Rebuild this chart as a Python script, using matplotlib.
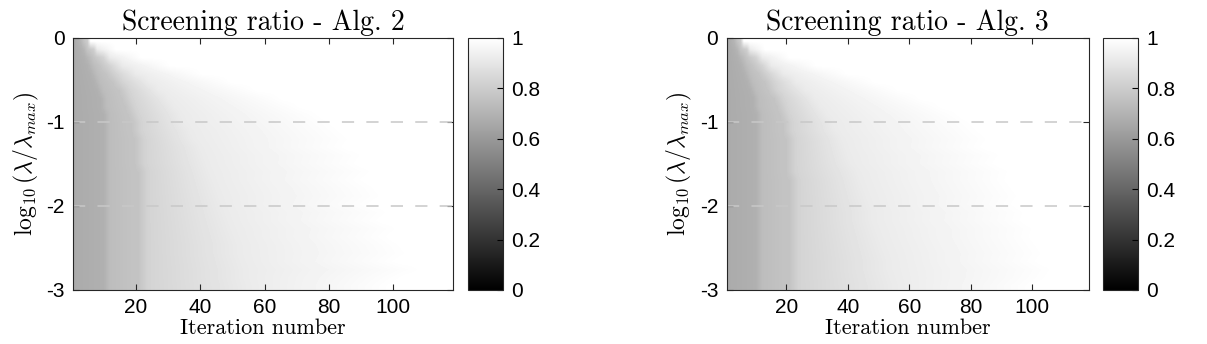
import matplotlib

matplotlib.use("Agg")
import matplotlib.pyplot as plt
import numpy as np

plt.rcParams["axes.unicode_minus"] = False
plt.rcParams["mathtext.fontset"] = "cm"
plt.rcParams["font.family"] = ["Liberation Sans", "DejaVu Sans"]

# log10(lambda / lambda_max) for each row of the image, top to bottom
log_lam = [0.0, -0.1, -0.2, -0.3, -0.4, -0.5, -0.6, -0.7, -0.8, -0.9, -1.0,
           -1.1, -1.2, -1.3, -1.4, -1.5, -1.6, -1.7, -1.8, -1.9, -2.0,
           -2.1, -2.2, -2.3, -2.4, -2.5, -2.6, -2.7, -2.8, -2.9, -3.0]
n_iter = 118

# screening ratio on either side of each step (iteration 1 first)
ratio_levels = [0.67, 0.69, 0.74, 0.77, 0.83, 0.92, 1.0]

# Alg. 2 -- iteration of each step, per row
alg2_it_a = [2, 3, 4, 5, 6, 7, 8, 9, 9, 10, 10, 10, 10, 10, 10, 10,
             10, 10, 10, 10, 10, 10, 10, 10, 10, 10, 10, 10, 10, 10, 10]
alg2_it_b = [3, 5, 7, 9, 11, 13, 15, 16, 17, 18, 19, 19, 20, 20, 20, 20,
             21, 21, 21, 21, 21, 21, 21, 21, 21, 21, 21, 21, 21, 21, 21]
alg2_it_c = [4, 8, 12, 16, 20, 24, 27, 30, 32, 34, 35, 37, 38, 40, 41, 42,
             43, 44, 45, 46, 47, 48, 49, 50, 51, 52, 52, 53, 54, 54, 55]
alg2_it_d = [6, 14, 22, 31, 41, 50, 58, 66, 72, 78, 82, 85, 88, 86, 92, 90,
             95, 92, 96, 98, 94, 100, 97, 103, 100, 104, 106, 102, 110, 104, 100]

# Alg. 3
alg3_it_a = [2, 3, 4, 5, 6, 7, 8, 9, 9, 10, 10, 10, 10, 10, 10, 10,
             10, 10, 10, 10, 10, 10, 10, 10, 10, 10, 10, 10, 10, 10, 10]
alg3_it_b = [3, 5, 7, 9, 11, 13, 14, 16, 17, 18, 19, 19, 20, 20, 20, 20,
             20, 21, 21, 21, 21, 21, 21, 21, 21, 21, 21, 21, 21, 21, 21]
alg3_it_c = [4, 8, 12, 15, 19, 23, 26, 29, 31, 33, 35, 36, 38, 39, 40, 41,
             43, 44, 45, 46, 47, 48, 48, 49, 50, 51, 52, 53, 53, 54, 55]
alg3_it_d = [6, 13, 21, 30, 40, 49, 57, 64, 71, 77, 81, 84, 87, 85, 91, 89,
             94, 93, 95, 97, 95, 99, 98, 102, 101, 103, 105, 103, 108, 106, 102]


def ratio_grid(it_a, it_b, it_c, it_d):
    iters = np.arange(1, n_iter + 1)
    rows = []
    for a, b, c, d in zip(it_a, it_b, it_c, it_d):
        knots = np.maximum.accumulate([1, a, a + 2, b, b + 3, c, d])
        rows.append(np.interp(iters, knots, ratio_levels))
    return np.array(rows)


def draw_panel(fig, ax_rect, cb_rect, grid, title):
    ax = fig.add_axes(ax_rect)
    im = ax.imshow(grid, cmap="gray", vmin=0, vmax=1, aspect="auto",
                   interpolation="bilinear",
                   extent=(0.5, n_iter + 0.5, min(log_lam), max(log_lam)))
    for y in (-1, -2):
        ax.axhline(y, color="#c8c8c8", linestyle=(0, (8, 8)), linewidth=1.1)
    ax.set_xlim(0.5, n_iter + 0.5)
    ax.set_ylim(-3, 0)
    ax.set_xticks([20, 40, 60, 80, 100])
    ax.set_yticks([0, -1, -2, -3])
    ax.set_yticklabels(["0", "-1", "-2", "-3"])
    ax.tick_params(direction="in", top=True, right=True, labelsize=15,
                   length=4, width=0.8, color="#262626", pad=6)
    for s in ax.spines.values():
        s.set_color("#262626")
    ax.set_title(title, fontsize=20, family="cmr10", pad=6)
    ax.set_xlabel("Iteration number", fontsize=16, family="cmr10", labelpad=1)
    ax.set_ylabel(r"$\log_{10}(\lambda/\lambda_{max})$", fontsize=17, labelpad=4)

    cax = fig.add_axes(cb_rect)
    cb = fig.colorbar(im, cax=cax, ticks=[0, 0.2, 0.4, 0.6, 0.8, 1])
    cb.ax.set_yticklabels(["0", "0.2", "0.4", "0.6", "0.8", "1"])
    cb.ax.tick_params(direction="in", labelsize=15, length=4, width=0.8, pad=6)
    cb.outline.set_edgecolor("#262626")
    return ax


fig = plt.figure(figsize=(12.07, 3.44), dpi=100)
draw_panel(fig, [0.0605, 0.157, 0.3148, 0.7326], [0.3877, 0.157, 0.029, 0.7326],
           ratio_grid(alg2_it_a, alg2_it_b, alg2_it_c, alg2_it_d),
           "Screening ratio - Alg. 2")
draw_panel(fig, [0.602, 0.157, 0.300, 0.7326], [0.9138, 0.157, 0.029, 0.7326],
           ratio_grid(alg3_it_a, alg3_it_b, alg3_it_c, alg3_it_d),
           "Screening ratio - Alg. 3")
fig.savefig("out.png", dpi=100)
